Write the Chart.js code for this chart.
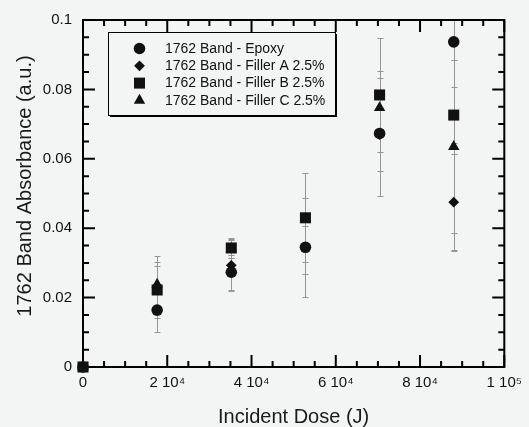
<!DOCTYPE html>
<html>
<head>
<meta charset="utf-8">
<script src="https://cdn.jsdelivr.net/npm/chart.js@4.4.1/dist/chart.umd.min.js"></script>
<style>
  html, body { margin: 0; padding: 0; background: #f3f4f4; }
  #wrap { width: 529px; height: 427px; }
</style>
</head>
<body>
<div id="wrap"><canvas id="graph" width="529" height="427"></canvas></div>
<script>
// incident dose (J) of each measurement group
const doses = [0, 17600, 35200, 52800, 70400, 88000];

// absorbance of the 1762 band, one array per sample
const epoxy   = [0, 0.0164, 0.0273, 0.0345, 0.0673, 0.0937];
const fillerA = [0, 0.0230, 0.0293, 0.0345, 0.0670, 0.0475];
const fillerB = [0, 0.0222, 0.0343, 0.0430, 0.0784, 0.0726];
const fillerC = [0, 0.0238, 0.0340, 0.0425, 0.0747, 0.0635];

// +/- error of each point
const epoxyErr   = [0, 0.0063, 0.0050, 0.0143, 0.0180, 0.0600];
const fillerAErr = [0, 0.0060, 0.0075, 0.0078, 0.0105, 0.0140];
const fillerBErr = [0, 0.0080, 0.0030, 0.0128, 0.0163, 0.0080];
const fillerCErr = [0, 0.0082, 0.0025, 0.0020, 0.0085, 0.0250];

const seriesLabels = ['1762 Band - Epoxy', '1762 Band - Filler A 2.5%', '1762 Band - Filler B 2.5%', '1762 Band - Filler C 2.5%'];
const xTickLabels = ['0', '2 10\u2074', '4 10\u2074', '6 10\u2074', '8 10\u2074', '1 10\u2075'];
const yTickLabels = ['0', '0.02', '0.04', '0.06', '0.08', '0.1'];

const FONT = "'Liberation Sans', Arial, sans-serif";
const BG = '#f3f4f4';

function points(values) {
    return values.map((v, i) => ({x: doses[i], y: v}));
}

function makeSet(label, values, errors, style, radius) {
    return {
        label: label,
        data: points(values),
        errors: errors,
        pointStyle: style,
        pointRadius: radius,
        pointHoverRadius: radius,
        backgroundColor: '#111',
        borderColor: '#111',
        borderWidth: 0,
        showLine: false,
        clip: false
    };
}

// error bars, frame and inward ticks go under the markers
const framePlugin = {
    id: 'framePlugin',
    beforeDatasetsDraw(chart) {
        const ctx = chart.ctx;
        const a = chart.chartArea;
        const x = chart.scales.x, y = chart.scales.y;

        ctx.save();
        ctx.beginPath();
        ctx.rect(a.left, a.top, a.right - a.left, a.bottom - a.top);
        ctx.clip();
        ctx.strokeStyle = '#959595';
        ctx.lineWidth = 1;
        chart.data.datasets.forEach(ds => {
            ds.data.forEach((p, i) => {
                const e = ds.errors[i];
                if (!e) return;
                const px = Math.round(x.getPixelForValue(p.x)) + 0.5;
                const y1 = Math.round(y.getPixelForValue(p.y + e)) + 0.5;
                const y2 = Math.round(y.getPixelForValue(p.y - e)) + 0.5;
                ctx.beginPath();
                ctx.moveTo(px, y1); ctx.lineTo(px, y2);
                ctx.moveTo(px - 3, y1); ctx.lineTo(px + 3, y1);
                ctx.moveTo(px - 3, y2); ctx.lineTo(px + 3, y2);
                ctx.stroke();
            });
        });
        ctx.restore();

        ctx.save();
        ctx.strokeStyle = '#000';
        ctx.lineWidth = 2;
        ctx.strokeRect(a.left, a.top, a.right - a.left, a.bottom - a.top);
        ctx.beginPath();
        for (let v = 0; v <= 100000; v += 5000) {
            const len = v % 20000 === 0 ? 12 : 6;
            const px = x.getPixelForValue(v);
            ctx.moveTo(px, a.bottom); ctx.lineTo(px, a.bottom - len);
            ctx.moveTo(px, a.top); ctx.lineTo(px, a.top + len);
        }
        for (let k = 0; k <= 20; k++) {
            const len = k % 4 === 0 ? 12 : 6;
            const py = y.getPixelForValue(k * 0.005);
            ctx.moveTo(a.left, py); ctx.lineTo(a.left + len, py);
            ctx.moveTo(a.right, py); ctx.lineTo(a.right - len, py);
        }
        ctx.stroke();
        ctx.restore();
    },
    afterDraw(chart) {
        const ctx = chart.ctx;
        ctx.save();

        // legend box with drop shadow
        const bx = 108, by = 32, bw = 227, bh = 83;
        ctx.fillStyle = '#000';
        ctx.fillRect(bx + 2, by + 2, bw, bh);
        ctx.fillStyle = BG;
        ctx.fillRect(bx, by, bw, bh);
        ctx.strokeStyle = '#000';
        ctx.lineWidth = 1;
        ctx.strokeRect(bx + 0.5, by + 0.5, bw, bh);

        ctx.font = '14px ' + FONT;
        ctx.textBaseline = 'middle';
        ctx.textAlign = 'left';
        chart.data.datasets.forEach((ds, i) => {
            const ry = 48.5 + i * 17.3;
            ctx.fillStyle = '#111';
            Chart.helpers.drawPoint(ctx, {pointStyle: ds.pointStyle, radius: ds.pointRadius, rotation: 0, borderWidth: 0}, 139.5, ry);
            ctx.fillStyle = '#111';
            ctx.fillText(ds.label, 165, ry + 0.5);
        });

        // y axis title
        ctx.translate(25, 186);
        ctx.rotate(-Math.PI / 2);
        ctx.font = '20px ' + FONT;
        ctx.textAlign = 'center';
        ctx.fillStyle = '#1a1a1a';
        ctx.fillText('1762 Band Absorbance (a.u.)', 0, 0);
        ctx.restore();
    }
};

const ctx = document.getElementById('graph');

new Chart(ctx, {
    type: 'scatter',
    data: {
        datasets: [
            makeSet(seriesLabels[0], epoxy, epoxyErr, 'circle', 5.8),
            makeSet(seriesLabels[1], fillerA, fillerAErr, 'rectRot', 5.4),
            makeSet(seriesLabels[2], fillerB, fillerBErr, 'rect', 7.8),
            makeSet(seriesLabels[3], fillerC, fillerCErr, 'triangle', 6.6)
        ]
    },
    options: {
        responsive: false,
        animation: false,
        events: [],
        layout: { padding: { left: 0, top: 19, right: 20, bottom: 0 } },
        plugins: {
            legend: { display: false },
            tooltip: { enabled: false }
        },
        scales: {
            x: {
                type: 'linear',
                min: 0,
                max: 100000,
                afterFit: s => { s.height = 60; },
                border: { display: false },
                grid: { display: false, drawTicks: false },
                ticks: {
                    stepSize: 20000,
                    padding: 7,
                    maxRotation: 0,
                    color: '#111',
                    font: { family: FONT, size: 15 },
                    callback: (v, i) => xTickLabels[i]
                },
                title: {
                    display: true,
                    text: 'Incident Dose (J)',
                    color: '#1a1a1a',
                    padding: 0,
                    font: { family: FONT, size: 20, lineHeight: 1 }
                }
            },
            y: {
                min: 0,
                max: 0.1,
                afterFit: s => { s.width = 83; },
                border: { display: false },
                grid: { display: false, drawTicks: false },
                ticks: {
                    stepSize: 0.02,
                    padding: 11,
                    color: '#111',
                    font: { family: FONT, size: 15 },
                    callback: (v, i) => yTickLabels[i]
                }
            }
        }
    },
    plugins: [framePlugin]
});
</script>
</body>
</html>
